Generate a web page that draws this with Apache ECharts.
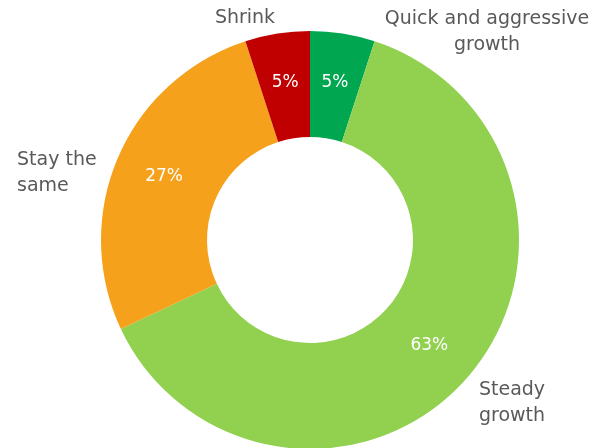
<!DOCTYPE html>
<html><head><meta charset="utf-8">
<script src="https://cdn.jsdelivr.net/npm/echarts@6/dist/echarts.min.js"></script>
<style>html,body{margin:0;padding:0;background:#fff}#c{width:602px;height:448px}</style>
</head><body><div id="c"></div>
<script>
var categories = ['Quick and aggressive\ngrowth', 'Steady\ngrowth', 'Stay the\nsame', 'Shrink'];
var values = [5, 63, 27, 5];
var colors = ['#00A650', '#92D050', '#F5A11C', '#C00000'];

// label anchor placement (layout only)
var labelPos = [
  { x: 487, y: 32, align: 'center' },
  { x: 512, y: 403, align: 'center' },
  { x: 17, y: 173, align: 'left' },
  { x: 245, y: 18, align: 'center' }
];

var chart = echarts.init(document.getElementById('c'));
var data = categories.map(function (c, i) { return { name: c, value: values[i], itemStyle: { color: colors[i] } }; });
var font = 'DejaVu Sans';
chart.setOption({
  animation: false,
  series: [
    {
      type: 'pie', center: [310, 240], radius: [103, 209], startAngle: 90, clockwise: true,
      data: data,
      label: { position: 'inside', formatter: '{c}%', color: '#fff', fontSize: 17, fontFamily: font, padding: [5, 0, 0, 0] },
      labelLine: { show: false }
    },
    {
      type: 'pie', center: [310, 240], radius: [103, 209], startAngle: 90, clockwise: true, silent: true,
      data: data.map(function (d) { return { name: d.name, value: d.value, itemStyle: { color: 'rgba(0,0,0,0)' } }; }),
      label: { position: 'outside', formatter: '{b}', color: '#595959', fontSize: 19, fontFamily: font, lineHeight: 26, overflow: 'none', width: 300, edgeDistance: 0 },
      labelLine: { show: false },
      labelLayout: function (p) {
        var l = labelPos[p.dataIndex];
        return { x: l.x, y: l.y, align: l.align, verticalAlign: 'middle' };
      }
    }
  ]
});
</script></body></html>
